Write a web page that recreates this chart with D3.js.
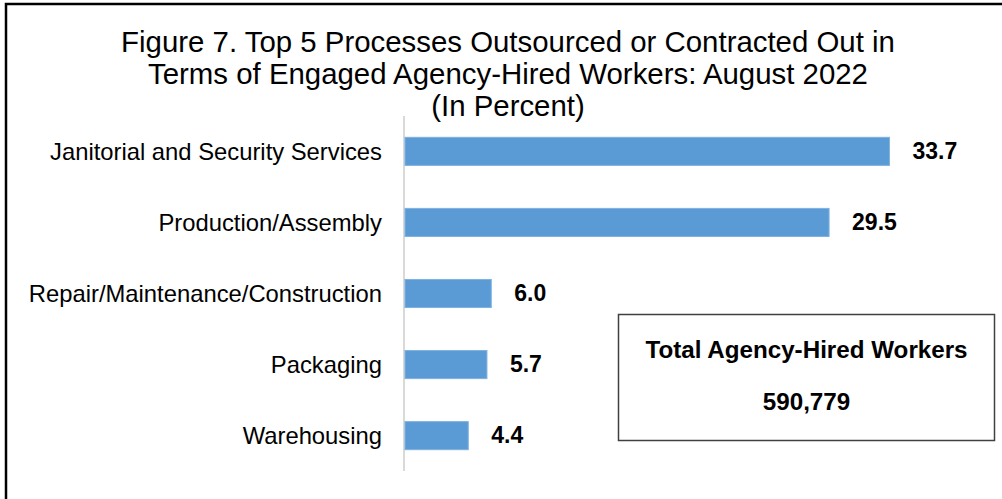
<!DOCTYPE html>
<html>
<head>
<meta charset="utf-8">
<script src="https://cdn.jsdelivr.net/npm/d3@7"></script>
<style>
  body { margin: 0; background: #fff; overflow: hidden; }
  svg { display: block; font-family: "Liberation Sans", Arial, sans-serif; }
</style>
</head>
<body>
<div class="barChart"></div>
<script>
// chart data
var categories = ["Janitorial and Security Services", "Production/Assembly",
    "Repair/Maintenance/Construction", "Packaging", "Warehousing"];
var values = [33.7, 29.5, 6.0, 5.7, 4.4];
var titleLines = ["Figure 7. Top 5 Processes Outsourced or Contracted Out in",
    "Terms of Engaged Agency-Hired Workers: August 2022", "(In Percent)"];
var boxLines = ["Total Agency-Hired Workers", "590,779"];

var width = 1002, height = 499;

var svg = d3.select(".barChart")
    .append("svg")
    .attr("width", width)
    .attr("height", height);

svg.append("rect")
    .attr("width", width).attr("height", height)
    .attr("fill", "#fff");

// outer frame: only top and left edges are inside the picture
svg.append("path")
    .attr("d", "M6," + height + "V4H" + width)
    .attr("fill", "none")
    .attr("stroke", "#000")
    .attr("stroke-width", 2.5);

// title
svg.append("g").selectAll("text")
    .data(titleLines)
    .enter()
    .append("text")
    .attr("x", 508)
    .attr("y", function (d, i) { return 52 + i * 32; })
    .attr("text-anchor", "middle")
    .style("font-size", "29.4px")
    .attr("fill", "#000")
    .text(function (d) { return d; });

var x = d3.scaleLinear()
    .domain([0, 40])
    .range([405, 980]);

var y = d3.scaleBand()
    .domain(categories)
    .range([116, 471])
    .paddingInner(0.605)
    .paddingOuter(0.3);

var data = categories.map(function (c, i) { return { name: c, value: values[i] }; });

// category axis line
svg.append("line")
    .attr("x1", 404).attr("x2", 404)
    .attr("y1", y.range()[0]).attr("y2", y.range()[1])
    .attr("stroke", "#d9d9d9")
    .attr("stroke-width", 2);

var rows = svg.selectAll(".row")
    .data(data)
    .enter()
    .append("g")
    .attr("class", "row");

rows.append("rect")
    .attr("x", x(0))
    .attr("y", function (d) { return y(d.name); })
    .attr("width", function (d) { return x(d.value) - x(0); })
    .attr("height", y.bandwidth())
    .attr("fill", "#5b9bd5")
    .attr("stroke", "#7eb1e0")
    .attr("stroke-width", 1);

rows.append("text")
    .attr("x", 382)
    .attr("y", function (d) { return y(d.name) + y.bandwidth() / 2; })
    .attr("dy", "0.35em")
    .attr("text-anchor", "end")
    .style("font-size", "23.8px")
    .attr("fill", "#000")
    .text(function (d) { return d.name; });

rows.append("text")
    .attr("x", function (d) { return x(d.value) + 23; })
    .attr("y", function (d) { return y(d.name) + y.bandwidth() / 2; })
    .attr("dy", "0.33em")
    .style("font-size", "23px")
    .style("font-weight", "bold")
    .attr("fill", "#000")
    .text(function (d) { return d3.format(".1f")(d.value); });

// total box
svg.append("rect")
    .attr("x", 618.5).attr("y", 314.5)
    .attr("width", 376).attr("height", 126)
    .attr("fill", "#fff")
    .attr("stroke", "#404040")
    .attr("stroke-width", 1.5);

svg.append("g").selectAll("text")
    .data(boxLines)
    .enter()
    .append("text")
    .attr("x", 806.5)
    .attr("y", function (d, i) { return 358 + i * 52; })
    .attr("text-anchor", "middle")
    .style("font-size", "24.2px")
    .style("font-weight", "bold")
    .attr("fill", "#000")
    .text(function (d) { return d; });
</script>
</body>
</html>
